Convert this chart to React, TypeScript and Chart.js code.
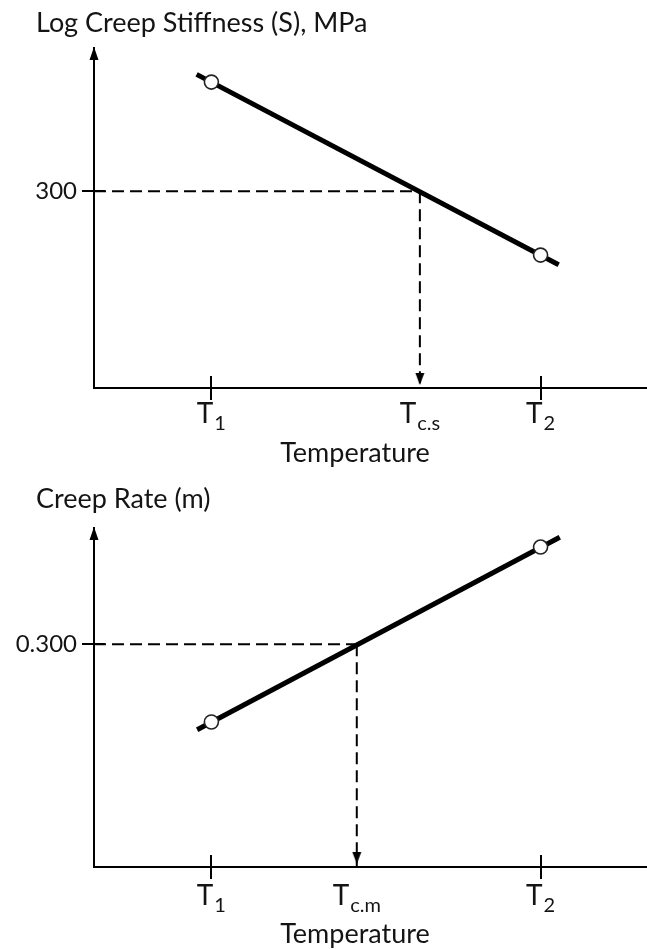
import React, { useEffect, useRef } from "react";
import { Chart, registerables } from "chart.js";

Chart.register(...registerables);

// ---------------- data ----------------
const tempPoints = [-18, -12]; // T1, T2
const tempAxisRange = [-20.14, -10.06];
const xTickMain = ["T", "T", "T"];
const xTickMarked = [true, false, true];

// Log creep stiffness (MPa)
const stiffValues = [600, 200];
const stiffFitTemps = [-18.27, -11.67];
const stiffFitValues = [630, 188];
const stiffCritical = 300;
const stiffCriticalTemp = -14.2;
const stiffAxisRange = [86, 745];
const stiffYTickLabels = ["300"];
const stiffXTickSubs = ["1", "c.s", "2"];

// Creep rate (m)
const rateValues = [0.26, 0.35];
const rateFitTemps = [-18.26, -11.65];
const rateFitValues = [0.256, 0.355];
const rateCritical = 0.3;
const rateCriticalTemp = -15.35;
const rateAxisRange = [0.1854, 0.3598];
const rateYTickLabels = ["0.300"];
const rateXTickSubs = ["1", "c.m", "2"];

const TEXT = "#141414";
const FONT = "Lato";

function makeArrow(): HTMLCanvasElement {
  const c = document.createElement("canvas");
  c.width = 10;
  c.height = 30;
  const g = c.getContext("2d")!;
  g.fillStyle = "#000";
  g.beginPath();
  g.moveTo(0.5, 0);
  g.lineTo(9.5, 0);
  g.lineTo(5, 12);
  g.closePath();
  g.fill();
  return c;
}

const decorPlugin = {
  id: "decor",
  afterDraw(chart: any, _args: any, o: any) {
    const { ctx, chartArea: a, scales } = chart;
    const xs = scales.x;
    const ys = scales.y;
    ctx.save();
    ctx.fillStyle = "#000";
    ctx.strokeStyle = "#000";
    ctx.lineWidth = 2;
    // arrow head on the y axis
    ctx.beginPath();
    ctx.moveTo(a.left, a.top - 1);
    ctx.lineTo(a.left - 4.5, a.top + 12);
    ctx.lineTo(a.left + 4.5, a.top + 12);
    ctx.closePath();
    ctx.fill();
    // crossing tick marks
    ctx.beginPath();
    xs.ticks.forEach((t: any, i: number) => {
      if (!o.marked[i]) return;
      const px = Math.round(xs.getPixelForValue(t.value));
      ctx.moveTo(px, a.bottom - 12);
      ctx.lineTo(px, a.bottom + 12);
    });
    ys.ticks.forEach((t: any) => {
      const py = Math.round(ys.getPixelForValue(t.value));
      ctx.moveTo(a.left - 12, py);
      ctx.lineTo(a.left + 11, py);
    });
    ctx.stroke();
    // x tick labels with subscripts
    ctx.fillStyle = TEXT;
    ctx.textBaseline = "alphabetic";
    ctx.textAlign = "left";
    xs.ticks.forEach((t: any, i: number) => {
      const px = xs.getPixelForValue(t.value);
      ctx.font = `28px ${FONT}`;
      const wm = ctx.measureText(o.main[i]).width;
      ctx.font = `20px ${FONT}`;
      const ws = ctx.measureText(o.subs[i]).width;
      const gap = 1;
      const x0 = px - (wm + gap + ws) / 2;
      const by = a.bottom + o.tickBaseline;
      ctx.font = `28px ${FONT}`;
      ctx.fillText(o.main[i], x0, by);
      ctx.font = `20px ${FONT}`;
      ctx.fillText(o.subs[i], x0 + wm + gap, by + 7);
    });
    // axis title
    ctx.font = `27px ${FONT}`;
    ctx.textAlign = "center";
    ctx.fillText(o.axisTitle, o.axisTitleX, a.bottom + o.axisTitleBaseline);
    // chart title
    ctx.textAlign = "left";
    ctx.font = `27px ${FONT}`;
    ctx.fillText(o.title, o.titleX, o.titleBaseline);
    ctx.restore();
  },
};

type PanelProps = {
  title: string;
  yType: "linear" | "logarithmic";
  values: number[];
  fitTemps: number[];
  fitValues: number[];
  critical: number;
  criticalTemp: number;
  yRange: number[];
  yTickLabels: string[];
  xSubs: string[];
  height: number;
  areaTop: number;
  areaBottom: number;
  titleBaseline: number;
  tickBaseline: number;
  axisTitleBaseline: number;
};

function Panel(p: PanelProps) {
  const ref = useRef<HTMLCanvasElement>(null);
  useEffect(() => {
    if (!ref.current) return;
    const arrow = makeArrow();
    const xTickValues = [tempPoints[0], p.criticalTemp, tempPoints[1]];
    const chart = new Chart(ref.current, {
      type: "line",
      data: {
        datasets: [
          {
            data: tempPoints.map((t, i) => ({ x: t, y: p.values[i] })),
            showLine: false,
            pointRadius: 7,
            pointBackgroundColor: "#fff",
            pointBorderColor: "#222",
            pointBorderWidth: 1.6,
            order: 0,
            clip: false,
          } as any,
          {
            data: p.fitTemps.map((t, i) => ({ x: t, y: p.fitValues[i] })),
            borderColor: "#000",
            borderWidth: 5,
            pointRadius: 0,
            order: 1,
            clip: false,
          },
          {
            data: [
              { x: tempAxisRange[0], y: p.critical },
              { x: p.criticalTemp, y: p.critical },
            ],
            borderColor: "#000",
            borderWidth: 2,
            borderDash: [12, 6],
            pointRadius: 0,
            order: 2,
            clip: false,
          },
          {
            data: [
              { x: p.criticalTemp, y: p.critical },
              { x: p.criticalTemp, y: p.yRange[0] },
            ],
            borderColor: "#000",
            borderWidth: 2,
            borderDash: [12, 6],
            pointRadius: [0, 5],
            pointStyle: arrow,
            order: 2,
            clip: false,
          } as any,
        ],
      },
      options: {
        animation: false,
        responsive: false,
        maintainAspectRatio: false,
        events: [],
        layout: {
          autoPadding: false,
          padding: { top: p.areaTop, left: 0, right: 0, bottom: 0 },
        },
        plugins: {
          legend: { display: false },
          tooltip: { enabled: false },
          title: { display: false },
          decor: {
            marked: xTickMarked,
            main: xTickMain,
            subs: p.xSubs,
            title: p.title,
            titleX: 36,
            titleBaseline: p.titleBaseline,
            axisTitle: "Temperature",
            axisTitleX: 355,
            tickBaseline: p.tickBaseline,
            axisTitleBaseline: p.axisTitleBaseline,
          },
        } as any,
        scales: {
          x: {
            type: "linear",
            min: tempAxisRange[0],
            max: tempAxisRange[1],
            bounds: "data",
            afterBuildTicks: (s: any) => {
              s.ticks = xTickValues.map((v) => ({ value: v }));
            },
            afterFit: (s: any) => {
              s.height = p.height - p.areaBottom;
            },
            ticks: { display: false },
            grid: { display: false },
            border: { display: true, color: "#000", width: 2 },
          },
          y: {
            type: p.yType,
            min: p.yRange[0],
            max: p.yRange[1],
            bounds: "data",
            afterBuildTicks: (s: any) => {
              s.ticks = [{ value: p.critical }];
            },
            afterFit: (s: any) => {
              s.width = 94;
            },
            ticks: {
              callback: (_v: any, i: number) => p.yTickLabels[i],
              font: { family: FONT, size: 24 },
              color: TEXT,
              padding: 5,
              autoSkip: false,
            },
            grid: {
              display: true,
              drawOnChartArea: false,
              drawTicks: true,
              tickLength: 12,
              color: "rgba(0,0,0,0)",
            },
            border: { display: true, color: "#000", width: 2 },
          } as any,
        },
      },
      plugins: [decorPlugin as any],
    });
    return () => chart.destroy();
  }, []);
  return (
    <canvas
      ref={ref}
      width={647}
      height={p.height}
      style={{ display: "block", width: 647, height: p.height }}
    />
  );
}

export default function App() {
  return (
    <div
      style={{
        position: "absolute",
        left: 0,
        top: 0,
        width: 647,
        height: 949,
        background: "#fff",
        overflow: "hidden",
      }}
    >
      <Panel
        title="Log Creep Stiffness (S), MPa"
        yType="logarithmic"
        values={stiffValues}
        fitTemps={stiffFitTemps}
        fitValues={stiffFitValues}
        critical={stiffCritical}
        criticalTemp={stiffCriticalTemp}
        yRange={stiffAxisRange}
        yTickLabels={stiffYTickLabels}
        xSubs={stiffXTickSubs}
        height={475}
        areaTop={48}
        areaBottom={388}
        titleBaseline={32}
        tickBaseline={35}
        axisTitleBaseline={74}
      />
      <Panel
        title="Creep Rate (m)"
        yType="linear"
        values={rateValues}
        fitTemps={rateFitTemps}
        fitValues={rateFitValues}
        critical={rateCritical}
        criticalTemp={rateCriticalTemp}
        yRange={rateAxisRange}
        yTickLabels={rateYTickLabels}
        xSubs={rateXTickSubs}
        height={474}
        areaTop={53}
        areaBottom={392}
        titleBaseline={33}
        tickBaseline={38}
        axisTitleBaseline={76}
      />
    </div>
  );
}
